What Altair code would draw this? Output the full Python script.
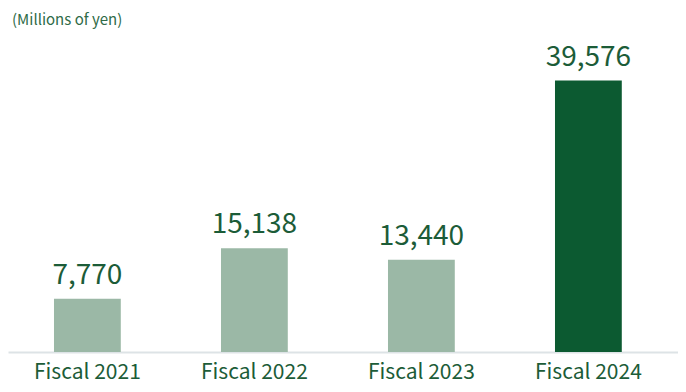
import altair as alt
import pandas as pd

categories = ["Fiscal 2021", "Fiscal 2022", "Fiscal 2023", "Fiscal 2024"]
values = [7770, 15138, 13440, 39576]
highlight = [False, False, False, True]
labels = ["7,770", "15,138", "13,440", "39,576"]

df = pd.DataFrame({"cat": categories, "val": values, "hl": highlight, "lab": labels})

FONT = "Noto Sans CJK JP"
TXT = "#1c5c38"
W = 400

x = alt.X("cat:N", sort=categories, title=None,
          scale=alt.Scale(paddingInner=0.6, paddingOuter=0.306, align=0.45),
          axis=alt.Axis(labelAngle=0, ticks=False, grid=False, domainColor="#dde3e6",
                        domainWidth=2, labelFontSize=21, labelFont=FONT, labelColor=TXT,
                        labelFontWeight=W, labelPadding=9))
y = alt.Y("val:Q", title=None, scale=alt.Scale(domain=[0, 48700], nice=False, zero=True),
          axis=None)

bars = alt.Chart(df).mark_bar().encode(
    x=x, y=y,
    color=alt.Color("hl:N", scale=alt.Scale(domain=[False, True], range=["#9bb8a6", "#0c5a31"]),
                    legend=None),
)

text = alt.Chart(df).mark_text(baseline="bottom", dy=-9, fontSize=28, font=FONT, color=TXT,
                               fontWeight=W).encode(
    x=alt.X("cat:N", sort=categories), y="val:Q", text="lab:N"
)

unit = alt.Chart(pd.DataFrame({"t": ["(Millions of yen)"]})).mark_text(
    align="left", baseline="middle", fontSize=15, font=FONT, color="#2f6b48", fontWeight=W
).encode(x=alt.value(4), y=alt.value(2), text="t:N")

chart = (bars + text + unit).properties(
    width=670, height=334, padding={"left": 0, "top": 5, "right": 0, "bottom": 4},
    background="white"
).configure_view(stroke=None)

chart.save("out.html", embed_options={"renderer": "svg", "actions": False})
